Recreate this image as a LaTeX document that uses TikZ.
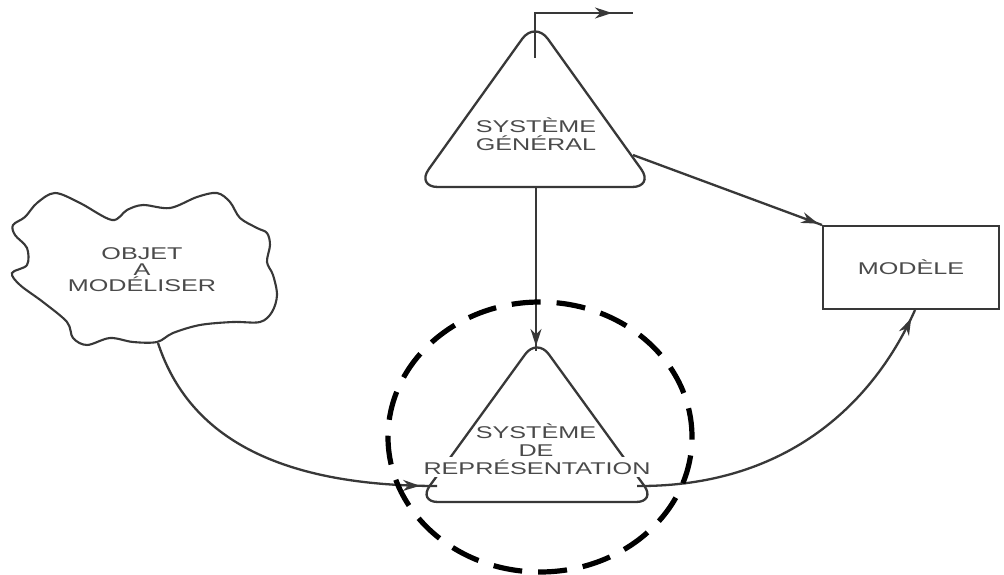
\documentclass[tikz,border=0pt]{standalone}
\usepackage{fontspec}
\usepackage{graphicx}
\setmainfont{Liberation Sans}
\usetikzlibrary{arrows.meta,decorations.markings,calc,shapes.geometric}

\definecolor{lineg}{HTML}{383838}
\definecolor{textg}{HTML}{4A4A4A}

% wide lettering of the labels
\newcommand\widetxt[1]{\scalebox{1.48}[1]{#1}}

\tikzset{
  ink/.style={color=lineg, line width=2.3pt},
  lbltext/.style={text=textg, font=\fontsize{17}{17.5}\selectfont, align=center, inner sep=0pt},
  tipat/.style={postaction={decorate}, decoration={markings,
      mark=at position #1 with {\arrow{Stealth[length=17pt,width=11pt]}}}},
  focusring/.style={draw=black, line width=5.2pt, dash pattern=on 29pt off 16pt},
}

\begin{document}
\begin{tikzpicture}[x=1pt, y=-1pt]
\useasboundingbox[fill=white] (0,0) rectangle (1004,575);

% --- general system (top triangle)
\coordinate (gA) at (535,21);
\coordinate (gL) at (416,187);
\coordinate (gR) at (654,187);
\coordinate (gB) at (536,187);
\draw[ink, rounded corners=22pt] (gB) -- (gR) -- (gA) -- (gL) -- cycle;
\node[lbltext] (gen) at (536,134) {\widetxt{SYSTÈME}\\\widetxt{GÉNÉRAL}};

% output of the general system
\coordinate (gstem) at (535,58);
\coordinate (gout) at (633,13);
\draw[ink, tipat=-21pt] (gstem) |- (gout);

% --- representation system (bottom triangle)
\coordinate (rA) at (537,338);
\coordinate (rL) at (418,502);
\coordinate (rR) at (656,502);
\coordinate (rB) at (537,502);
\coordinate (rTop) at (536,351);
\draw[ink, rounded corners=20pt] (rB) -- (rR) -- (rA) -- (rL) -- cycle;
\node[lbltext] (rep1) at (536,440) {\widetxt{SYSTÈME}\\\widetxt{DE}};
\node[lbltext, fill=white, inner ysep=2.5pt, inner xsep=1pt] (rep2) at (537,467) {\widetxt{REPRÉSENTATION}};
\coordinate (rIn) at (437,486);
\coordinate (rOut) at (637,486);

% --- object to be modelled (cloud)
\draw[ink, line width=2.1pt] plot[smooth cycle, tension=0.55] coordinates {
  (55,193) (80,203) (112,220) (127,210) (143,205) (170,208) (197,197) (217,193)
  (230,202) (240,218) (257,228) (267,233) (270,245) (267,262) (273,275) (277,295)
  (272,312) (260,322) (233,322) (200,325) (173,333) (157,342) (133,342) (110,338)
  (87,345) (73,338) (67,322) (43,302) (20,285) (12,273) (27,265) (27,248)
  (15,235) (13,225) (25,217) (37,203)};
\node[lbltext, font=\fontsize{17}{16}\selectfont] (obj) at (142,270) {\widetxt{OBJET}\\\widetxt{A}\\\widetxt{MODÉLISER}};
\coordinate (objOut) at (158,343);

% --- model
\node[draw=lineg, line width=2pt, minimum width=176pt, minimum height=83pt, lbltext] (mod) at (911,267.5) {\widetxt{MODÈLE}};

% --- connectors
\draw[ink, tipat=-5pt] (gB) -- (rTop);
\draw[ink, tipat=-4pt] (633,155) -- (mod.north west);
\draw[ink, tipat=-17pt] (objOut) .. controls (185,425) and (260,486) .. (rIn);
\draw[ink, tipat=-9pt] (rOut) .. controls (790,487) and (875,400) .. ($(mod.south)+(4,0)$);

% --- highlighted focus
\node[ellipse, focusring, minimum width=304pt, minimum height=270pt] (focus) at (540,437) {};
\end{tikzpicture}
\end{document}
